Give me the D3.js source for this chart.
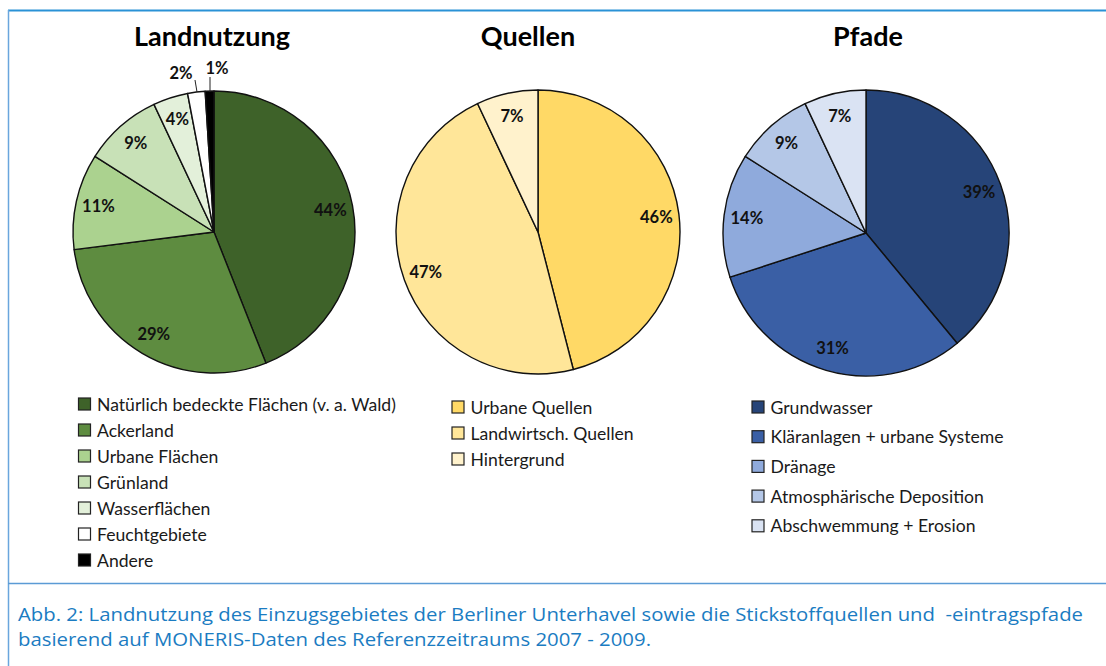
<!DOCTYPE html>
<html>
<head>
<meta charset="utf-8">
<script src="https://cdn.jsdelivr.net/npm/d3@7"></script>
<style>
  html, body { margin: 0; padding: 0; background: #fff; }
  svg { display: block; }
</style>
</head>
<body>
<svg id="chart" width="1106" height="666"></svg>
<script>
// ---------- DATA ----------
const titles = ["Landnutzung", "Quellen", "Pfade"];

const landCategories = ["Natürlich bedeckte Flächen (v. a. Wald)", "Ackerland", "Urbane Flächen", "Grünland", "Wasserflächen", "Feuchtgebiete", "Andere"];
const landValues = [44, 29, 11, 9, 4, 2, 1];
const landColors = ["#3e6229", "#5e8c40", "#abd28f", "#c8e1b7", "#e3f0da", "#ffffff", "#000000"];

const quellenCategories = ["Urbane Quellen", "Landwirtsch. Quellen", "Hintergrund"];
const quellenValues = [46, 47, 7];
const quellenColors = ["#ffd966", "#ffe699", "#fff2cc"];

const pfadeCategories = ["Grundwasser", "Kläranlagen + urbane Systeme", "Dränage", "Atmosphärische Deposition", "Abschwemmung + Erosion"];
const pfadeValues = [39, 31, 14, 9, 7];
const pfadeColors = ["#264478", "#3a5fa5", "#8faadc", "#b4c7e7", "#dae3f3"];

const captionLines = [
  "Abb. 2: Landnutzung des Einzugsgebietes der Berliner Unterhavel sowie die Stickstoffquellen und  -eintragspfade",
  "basierend auf MONERIS-Daten des Referenzzeitraums 2007 - 2009."
];

// ---------- LAYOUT ----------
const svg = d3.select("#chart");
const font = "Lato, 'Open Sans', sans-serif";

// frame
svg.append("line").attr("x1", 8).attr("x2", 1106).attr("y1", 10.5).attr("y2", 10.5)
  .attr("stroke", "#2a92d6").attr("stroke-width", 2);
svg.append("line").attr("x1", 8.5).attr("x2", 8.5).attr("y1", 10).attr("y2", 666)
  .attr("stroke", "#6aa6dd").attr("stroke-width", 1.5);
svg.append("line").attr("x1", 8).attr("x2", 1106).attr("y1", 583.5).attr("y2", 583.5)
  .attr("stroke", "#5b9bd5").attr("stroke-width", 1.5);

const pies = [
  { title: titles[0], cats: landCategories, vals: landValues, cols: landColors, cx: 214, cy: 232, r: 141,
    titleX: 212, legX: 84.5, legY: 404, legStep: 26,
    outside: { 5: { lx: 181, ly: 73, x1: 195, y1: 80, x2: 197, y2: 92 }, 6: { lx: 217, ly: 68, x1: 210, y1: 77, x2: 210, y2: 92 } } },
  { title: titles[1], cats: quellenCategories, vals: quellenValues, cols: quellenColors, cx: 538, cy: 232, r: 142,
    titleX: 528, legX: 458, legY: 407, legStep: 26, outside: {} },
  { title: titles[2], cats: pfadeCategories, vals: pfadeValues, cols: pfadeColors, cx: 866, cy: 233, r: 143,
    titleX: 868, legX: 758, legY: 407, legStep: 29.7, outside: {} }
];

const pieGen = d3.pie().sort(null).value(d => d).startAngle(0).endAngle(2 * Math.PI);

pies.forEach(p => {
  const g = svg.append("g").attr("transform", `translate(${p.cx},${p.cy})`);
  const arcs = pieGen(p.vals);
  const arc = d3.arc().innerRadius(0).outerRadius(p.r);
  const labelArc = d3.arc().innerRadius(p.r * 0.84).outerRadius(p.r * 0.84);

  g.selectAll("path.slice").data(arcs).join("path")
    .attr("class", "slice")
    .attr("d", arc)
    .attr("fill", (d, i) => p.cols[i])
    .attr("stroke", "#111")
    .attr("stroke-width", 1.4)
    .attr("stroke-linejoin", "round");

  arcs.forEach((d, i) => {
    const o = p.outside[i];
    let x, y;
    if (o) {
      svg.append("line").attr("x1", o.x1).attr("y1", o.y1).attr("x2", o.x2).attr("y2", o.y2)
        .attr("stroke", "#222").attr("stroke-width", 1);
      x = o.lx; y = o.ly;
      svg.append("text").attr("x", x).attr("y", y).attr("text-anchor", "middle")
        .attr("dominant-baseline", "central")
        .attr("font-family", font).attr("font-weight", "bold").attr("font-size", 16.5)
        .attr("fill", "#111").text(p.vals[i] + "%");
    } else {
      [x, y] = labelArc.centroid(d);
      g.append("text").attr("x", x).attr("y", y).attr("text-anchor", "middle")
        .attr("dominant-baseline", "central")
        .attr("font-family", font).attr("font-weight", "bold").attr("font-size", 16.5)
        .attr("fill", "#111").text(p.vals[i] + "%");
    }
  });

  // title
  svg.append("text").attr("x", p.titleX).attr("y", 46).attr("text-anchor", "middle")
    .attr("font-family", font).attr("font-weight", "bold").attr("font-size", 27)
    .attr("fill", "#000").text(p.title);

  // legend
  const leg = svg.append("g");
  p.cats.forEach((c, i) => {
    const y = p.legY + i * p.legStep;
    leg.append("rect").attr("x", p.legX - 6).attr("y", y - 6).attr("width", 12).attr("height", 12)
      .attr("fill", p.cols[i]).attr("stroke", "#222").attr("stroke-width", 1.2);
    leg.append("text").attr("x", p.legX + 12.5).attr("y", y).attr("dominant-baseline", "central")
      .attr("font-family", font).attr("font-size", 17.6).attr("fill", "#1a1a1a").text(c);
  });
});

// caption
const capWidths = [1065, 633];
captionLines.forEach((t, i) => {
  svg.append("text").attr("x", 18).attr("y", 621 + i * 25)
    .attr("font-family", "'Open Sans', sans-serif").attr("font-size", 18.5)
    .attr("fill", "#1b7cc2")
    .attr("textLength", capWidths[i]).attr("lengthAdjust", "spacingAndGlyphs")
    .style("white-space", "pre")
    .text(t);
});
</script>
</body>
</html>
